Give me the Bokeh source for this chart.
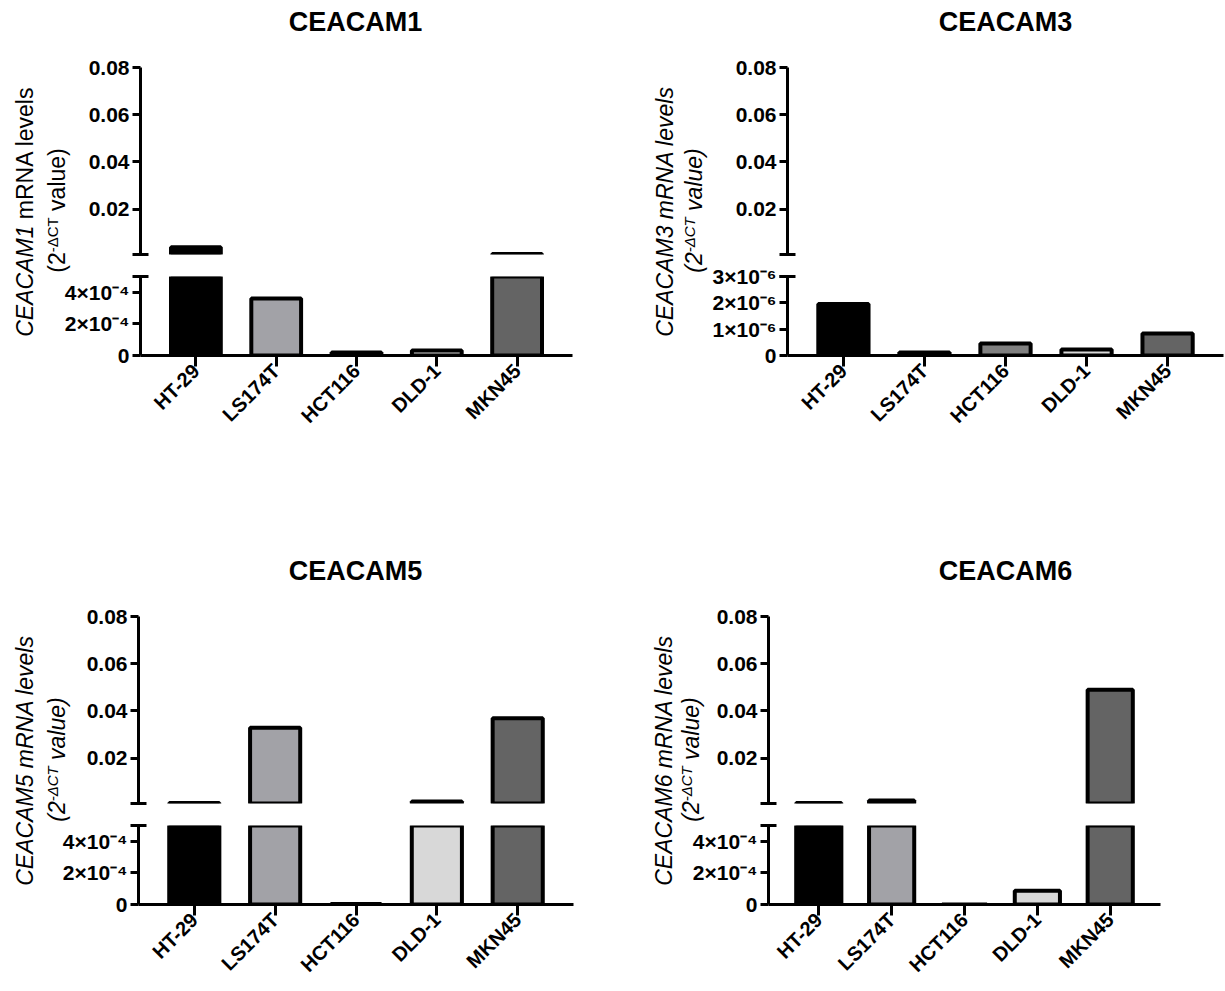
import math
from bokeh.plotting import figure
from bokeh.models import Range1d, FixedTicker, ColumnDataSource
from bokeh.layouts import row, column
from bokeh.core.properties import value
from bokeh.embed import file_html
from bokeh.resources import INLINE

# ---------------- data ----------------
cell_lines = ["HT-29", "LS174T", "HCT116", "DLD-1", "MKN45"]
bar_colors = ["#000000", "#A2A2A7", "#808080", "#D8D8D8", "#646464"]

ceacam1 = [0.0039, 3.6e-4, 1.9e-5, 3.2e-5, 0.0010]
ceacam3 = [1.96e-6, 0.11e-6, 0.46e-6, 0.23e-6, 0.84e-6]
ceacam5 = [0.0010, 0.0329, 3e-6, 0.00165, 0.0369]
ceacam6 = [0.0010, 0.0021, 0.0, 8.75e-5, 0.049]

upper_ticks = [0.02, 0.04, 0.06, 0.08]
upper_labels = ["0.02", "0.04", "0.06", "0.08"]
upper_top = 0.08
break_low = 0.0008

lower_ticks_a = [0, 2e-4, 4e-4]
lower_labels_a = ["0", "2×10⁻⁴", "4×10⁻⁴"]
lower_top_a = 5e-4
lower_ticks_b = [0, 1e-6, 2e-6, 3e-6]
lower_labels_b = ["0", "1×10⁻⁶", "2×10⁻⁶", "3×10⁻⁶"]
lower_top_b = 3e-6

FONT = "Liberation Sans"
BSHIFT = 0.36  # empirical baseline shift (em) of text glyphs

# Arial-compatible advance widths (1/1000 em)
W = {' ': 278, '(': 333, ')': 333, '2': 556, '-': 333, 'Δ': 668, 'C': 722, 'T': 611,
     'v': 500, 'a': 556, 'l': 222, 'u': 556, 'e': 556, 'm': 833, 'R': 722, 'N': 722,
     'A': 667, 's': 500, 'E': 667, 'M': 833, '1': 556, '3': 556, '5': 556, '6': 556}


def tw(s, size):
    return sum(W.get(c, 556) for c in s) * size / 1000.0


def blank_fig(w, h):
    f = figure(width=w, height=h, x_range=Range1d(0, w), y_range=Range1d(0, h),
               x_axis_location=None, y_axis_location=None, output_backend="svg",
               toolbar_location=None, min_border=0, min_border_left=0, min_border_right=0,
               min_border_top=0, min_border_bottom=0)
    f.grid.visible = False
    f.outline_line_color = None
    return f


def draw_pieces(fig, pieces, base_x, center_rel, H):
    total = sum(tw(t, sz) for t, _, sz, _ in pieces)
    start = center_rel + total / 2.0
    off = 0.0
    for t, st, sz, rs in pieces:
        lead = len(t) - len(t.lstrip(' '))
        pos = start - off - tw(' ' * lead, sz)
        fig.text(x=[base_x - rs - BSHIFT * sz], y=[H - pos], text=[t.strip()],
                 angle=math.pi / 2, text_font=value(FONT), text_font_style=st,
                 text_font_size=f"{sz}px", text_align="left", text_baseline="alphabetic",
                 text_color="black")
        off += tw(t, sz)


def style_yaxis(ax, ticks, labels, cap):
    ax.ticker = FixedTicker(ticks=ticks, minor_ticks=[cap])
    ax.major_label_overrides = dict(zip(ticks, labels))
    ax.axis_line_width = 3
    ax.axis_line_color = "black"
    ax.major_tick_line_width = 3
    ax.major_tick_line_color = "black"
    ax.major_tick_out = 8
    ax.major_tick_in = 0
    ax.minor_tick_line_width = 3
    ax.minor_tick_line_color = "black"
    ax.minor_tick_in = 8
    ax.minor_tick_out = 8
    ax.major_label_text_font = FONT
    ax.major_label_text_font_style = "bold"
    ax.major_label_text_font_size = "21px"
    ax.major_label_text_color = "black"
    ax.major_label_standoff = 3


# vertical geometry (px)
TITLE_H = 40
TOP_B, UP_H, GAP, LO_H = 27, 187, 22, 79
X0, X1 = -0.69, 4.69


def make_panel(name, vals, kind, left, lf1, lf2, axis, fr, end, b1, b2, italic_all,
               bottom_b, title_cx):
    lower_ticks, lower_labels, lower_top = (
        (lower_ticks_a, lower_labels_a, lower_top_a) if kind == "a"
        else (lower_ticks_b, lower_labels_b, lower_top_b))
    wide_lower = (kind == "b")          # lower tick labels need room above the frame
    up_bb = 8 if wide_lower else 20
    lo_tb = GAP - up_bb
    up_fig_h = TOP_B + UP_H + up_bb
    row_h = TITLE_H + up_fig_h + lo_tb + LO_H + bottom_b
    xr = Range1d(X0, X1)
    lo_left = lf2 if wide_lower else lf1

    # title strip, frame aligned with the bar area
    tf = figure(width=end - lf2, height=TITLE_H, x_range=xr, y_range=Range1d(0, TITLE_H),
                x_axis_location=None, y_axis_location=None, output_backend="svg",
                toolbar_location=None, min_border_left=axis - lf2,
                min_border_right=end - fr, min_border_top=0, min_border_bottom=0)
    tf.grid.visible = False
    tf.outline_line_color = None
    tx = X0 + (title_cx - axis) / float(fr - axis) * (X1 - X0)
    cap_base = 22 + 0.358 * 27
    tf.text(x=[tx], y=[TITLE_H - (cap_base - BSHIFT * 27)], text=[name],
            text_font=value(FONT), text_font_style="bold", text_font_size="27px",
            text_align="center", text_baseline="alphabetic", text_color="black")

    # upper segment
    up = figure(width=end - lf2, height=up_fig_h, x_range=xr,
                y_range=Range1d(break_low, upper_top), x_axis_location=None,
                output_backend="svg", toolbar_location=None,
                min_border_left=axis - lf2, min_border_right=end - fr,
                min_border_top=TOP_B, min_border_bottom=up_bb)
    up.grid.visible = False
    up.outline_line_color = None
    style_yaxis(up.yaxis[0], upper_ticks, upper_labels, break_low)
    idx_up = [i for i, v in enumerate(vals) if v > break_low]
    src_up = ColumnDataSource(dict(x=idx_up, top=[vals[i] for i in idx_up],
                                   color=[bar_colors[i] for i in idx_up]))
    up.vbar(x="x", top="top", bottom=0, width=0.62, fill_color="color",
            line_color="black", line_width=4, source=src_up)

    # lower segment
    lo = figure(width=end - lo_left, height=lo_tb + LO_H + bottom_b, x_range=xr,
                y_range=Range1d(0, lower_top), output_backend="svg",
                toolbar_location=None, min_border_left=axis - lo_left,
                min_border_right=end - fr, min_border_top=lo_tb,
                min_border_bottom=bottom_b)
    lo.grid.visible = False
    lo.outline_line_color = None
    style_yaxis(lo.yaxis[0], lower_ticks, lower_labels, lower_top)
    xa = lo.xaxis[0]
    xa.ticker = FixedTicker(ticks=list(range(len(cell_lines))))
    xa.major_label_overrides = {i: c for i, c in enumerate(cell_lines)}
    xa.major_label_orientation = math.pi / 4
    xa.axis_line_width = 3
    xa.major_tick_line_width = 3
    xa.major_tick_out = 11
    xa.major_tick_in = 0
    xa.major_label_text_font = FONT
    xa.major_label_text_font_style = "bold"
    xa.major_label_text_font_size = "20px"
    xa.major_label_text_color = "black"
    xa.major_label_standoff = 1
    src_lo = ColumnDataSource(dict(x=list(range(len(vals))), top=vals, color=bar_colors))
    lo.vbar(x="x", top="top", bottom=0, width=0.62, fill_color="color",
            line_color="black", line_width=4, source=src_lo)

    # y-axis title (two lines)
    st2 = "italic" if italic_all else "normal"
    f1 = blank_fig(lf1 - left, row_h)
    if italic_all:
        p1 = [(f"{name} mRNA levels", "italic", 23, 0)]
    else:
        p1 = [(name, "italic", 23, 0), (" mRNA levels", "normal", 23, 0)]
    draw_pieces(f1, p1, b1 - left, 211, row_h)

    f2h = row_h if wide_lower else TITLE_H + up_fig_h
    f2 = blank_fig(lf2 - lf1, f2h)
    p2 = [("(2", st2, 23, 0), ("-ΔCT", st2, 15, 8), (" value)", st2, 23, 0)]
    draw_pieces(f2, p2, b2 - lf1, 210, f2h)

    if wide_lower:
        return row(f1, f2, column(tf, up, lo))
    return row(f1, column(row(f2, column(tf, up)), lo))


panels_top = row(
    make_panel("CEACAM1", ceacam1, "a", 0, 40, 72, 140, 572, 640, 33, 65, False, 194, 355),
    make_panel("CEACAM3", ceacam3, "b", 640, 678, 708, 787, 1223, 1224, 673, 702, True, 194, 1005),
)
panels_bot = row(
    make_panel("CEACAM5", ceacam5, "a", 0, 40, 72, 138, 573, 640, 33, 65, True, 86, 355),
    make_panel("CEACAM6", ceacam6, "a", 640, 676, 706, 768, 1160, 1170, 672, 699, True, 86, 1005),
)
page = column(panels_top, panels_bot)

open("out.html", "w").write(file_html(page, INLINE))
